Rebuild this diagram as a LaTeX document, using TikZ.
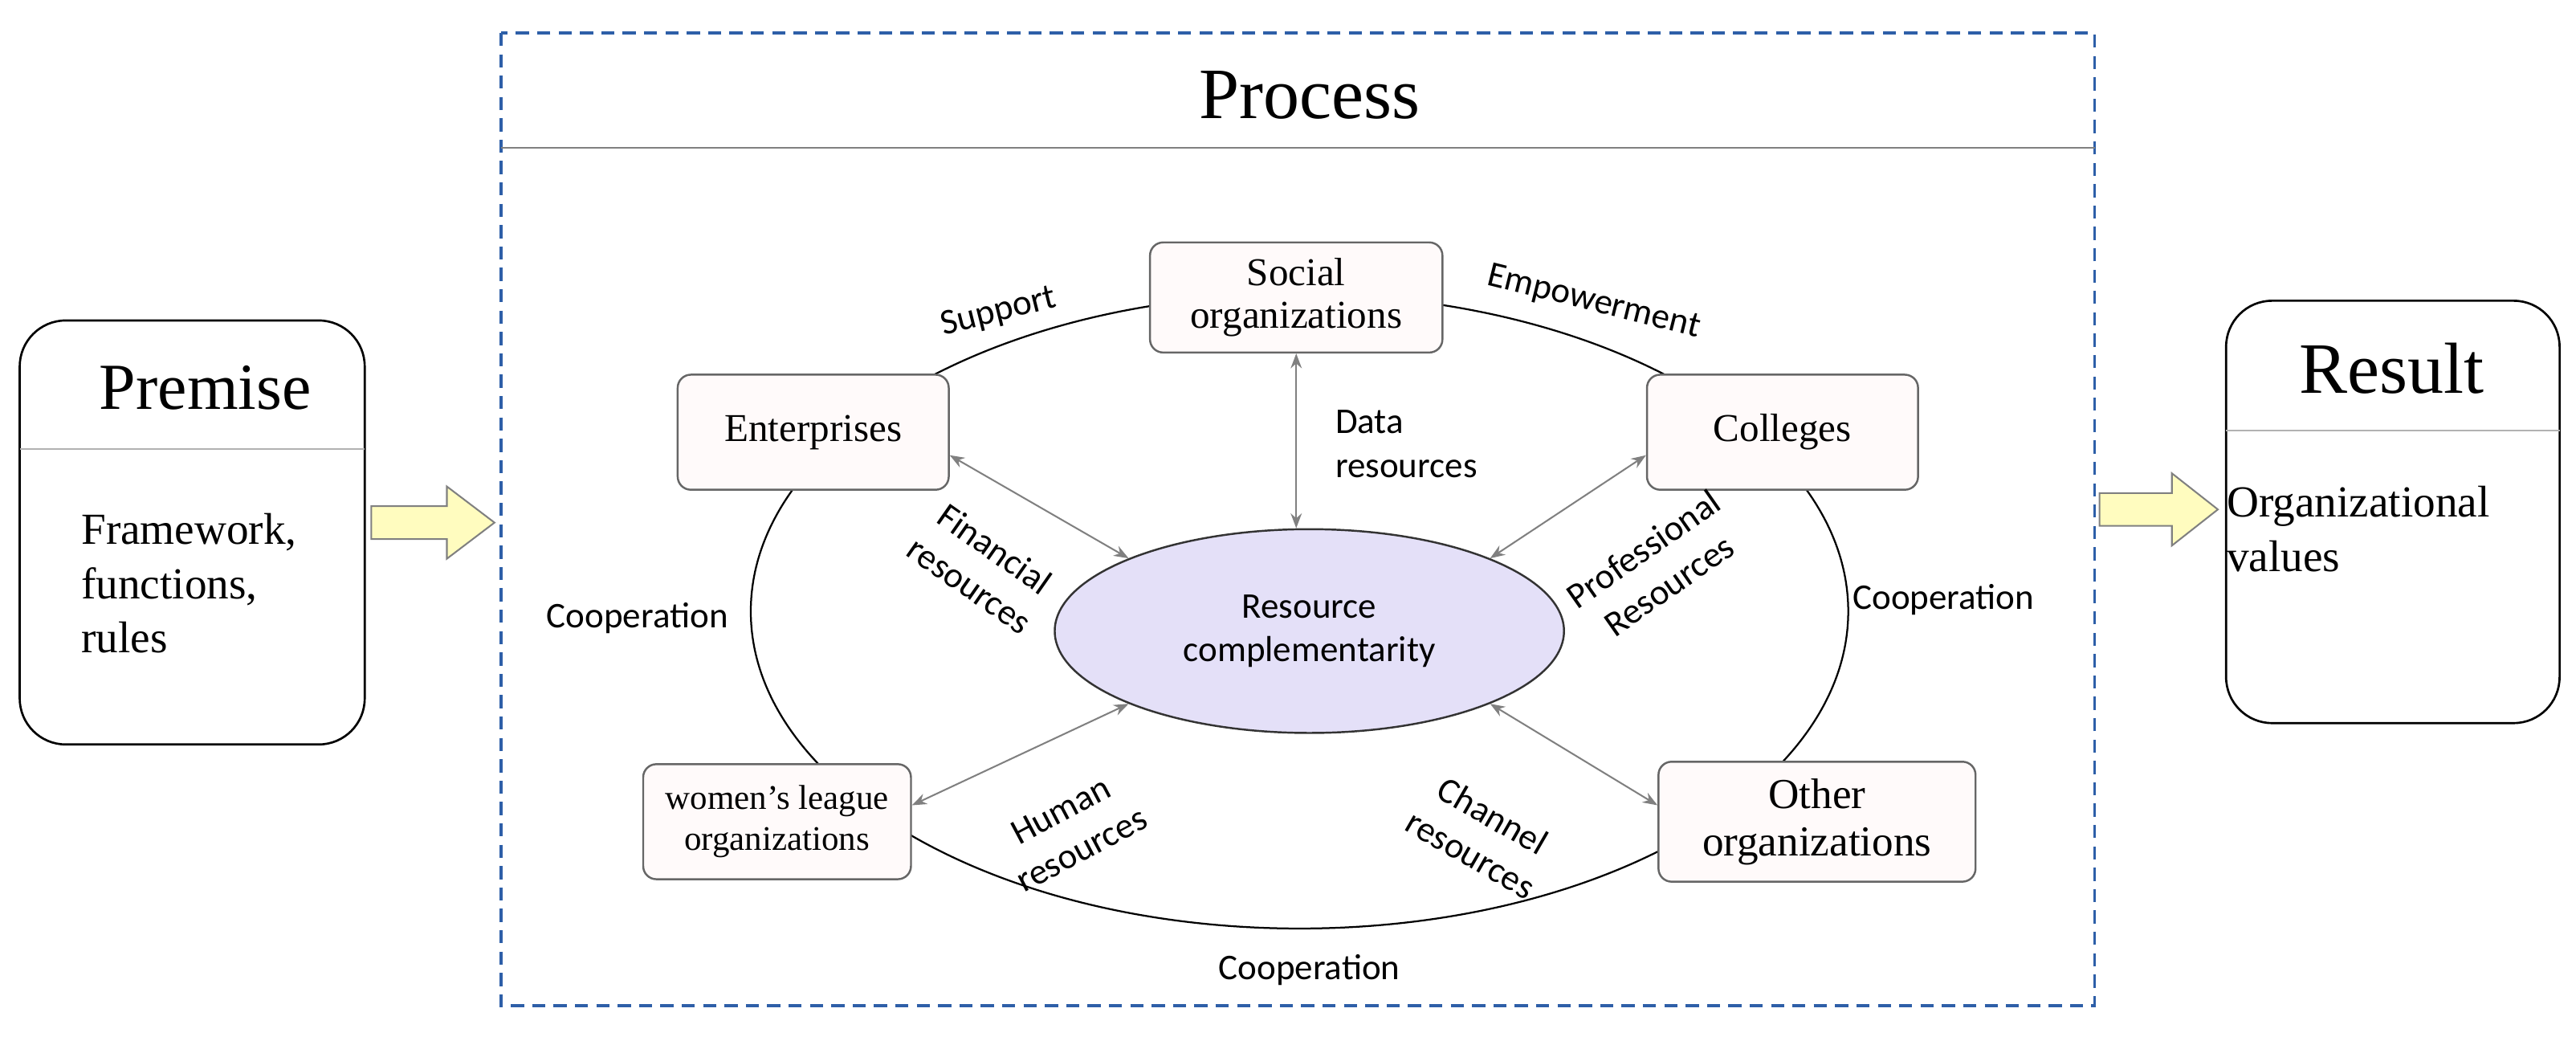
\documentclass[tikz,border=0pt]{standalone}
\usepackage{fontspec}
\setmainfont{Liberation Serif}
\newfontfamily\lbl{Carlito}
\usetikzlibrary{shapes.geometric,arrows.meta}
\definecolor{frame}{RGB}{46,95,168}
\definecolor{lav}{RGB}{228,224,248}
\begin{document}
\begin{tikzpicture}[x=1pt,y=-1pt,
 ent/.style={draw=gray!80!black,fill=pink!8,rounded corners=8pt,line width=1.2pt,font=\fontsize{24}{26}\selectfont,align=center,inner sep=0pt},
 lab/.style={font=\lbl\fontsize{22}{27}\selectfont,align=center},
 side/.style={draw=black,rounded corners=28pt,line width=1.3pt},
 link/.style={gray,line width=1pt,{Stealth[length=9pt]}-{Stealth[length=9pt]}},
 barrow/.style={draw=gray,fill=yellow!25,line width=1pt}]
\useasboundingbox (0,0) rectangle (1568,631);
% process frame
\draw[frame,line width=1.6pt,dash pattern=on 8pt off 5pt] (305,20) rectangle (1275,612);
\draw[gray,line width=1pt] (305,90) -- (1275,90);
\node[font=\fontsize{44}{48}\selectfont] (proc) at (797,58) {Process};
% premise
\draw[side] (12,195) rectangle (222,453);
\draw[gray!60,line width=1pt] (12,273) -- (222,273);
\node[font=\fontsize{40}{44}\selectfont] (prem) at (125,236) {Premise};
\node[font=\fontsize{27}{33}\selectfont,align=left,anchor=west] (premt) at (46,355) {Framework,\\functions,\\rules};
% result
\draw[side] (1355,183) rectangle (1558,440);
\draw[gray!60,line width=1pt] (1355,262) -- (1558,262);
\node[font=\fontsize{44}{48}\selectfont] (res) at (1456,224) {Result};
\node[font=\fontsize{27}{33}\selectfont,align=left,anchor=west] (rest) at (1352,322) {Organizational\\values};
% block arrows
\draw[barrow] (226,308) -- (272,308) -- (272,296) -- (301,318) -- (272,340) -- (272,328) -- (226,328) -- cycle;
\draw[barrow] (1278,300) -- (1322,300) -- (1322,288) -- (1350,310) -- (1322,332) -- (1322,320) -- (1278,320) -- cycle;
% ring
\draw[black,line width=1.1pt] (791,372) ellipse [x radius=334,y radius=193];
% center
\node[ellipse,draw=black!80,fill=lav,line width=1.2pt,minimum width=310pt,minimum height=124pt,font=\lbl\fontsize{22}{26}\selectfont,align=center] (c) at (797,384) {Resource\\complementarity};
% entities
\node[ent,minimum width=178pt,minimum height=67pt] (soc) at (789,181) {Social\\organizations};
\node[ent,minimum width=165pt,minimum height=70pt] (ent) at (495,263) {Enterprises};
\node[ent,minimum width=165pt,minimum height=70pt] (col) at (1085,263) {Colleges};
\node[ent,minimum width=163pt,minimum height=70pt,font=\fontsize{21}{25}\selectfont] (wom) at (473,500) {women's league\\organizations};
\node[ent,minimum width=193pt,minimum height=73pt,font=\fontsize{26}{29}\selectfont] (oth) at (1106,500) {Other\\organizations};
% links
\draw[link] (c.north) ++(-8,0) coordinate (cn) (soc.south) -- (cn);
\draw[link] (ent.east) ++(0,14) coordinate (e1) (e1) -- (c.north west);
\draw[link] (col.west) ++(0,14) coordinate (c1) (c1) -- (c.north east);
\draw[link] (wom.east) ++(0,-10) coordinate (w1) (w1) -- (c.south west);
\draw[link] (oth.west) ++(0,-10) coordinate (o1) (o1) -- (c.south east);
% labels
\node[lab,rotate=14] (l1) at (608,190) {Support};
\node[lab,rotate=-14] (l2) at (970,184) {Empowerment};
\node[lab] (l3) at (388,376) {Cooperation};
\node[lab] (l4) at (1183,365) {Cooperation};
\node[lab] (l5) at (797,590) {Cooperation};
\node[lab,align=left] (l6) at (856,270) {Data\\resources};
\node[lab,rotate=-35] (l7) at (598,345) {Financial\\resources};
\node[lab,rotate=35] (l8) at (1008,345) {Professional\\Resources};
\node[lab,rotate=28] (l9) at (652,505) {Human\\resources};
\node[lab,rotate=-30] (l10) at (902,508) {Channel\\resources};
\end{tikzpicture}
\end{document}
